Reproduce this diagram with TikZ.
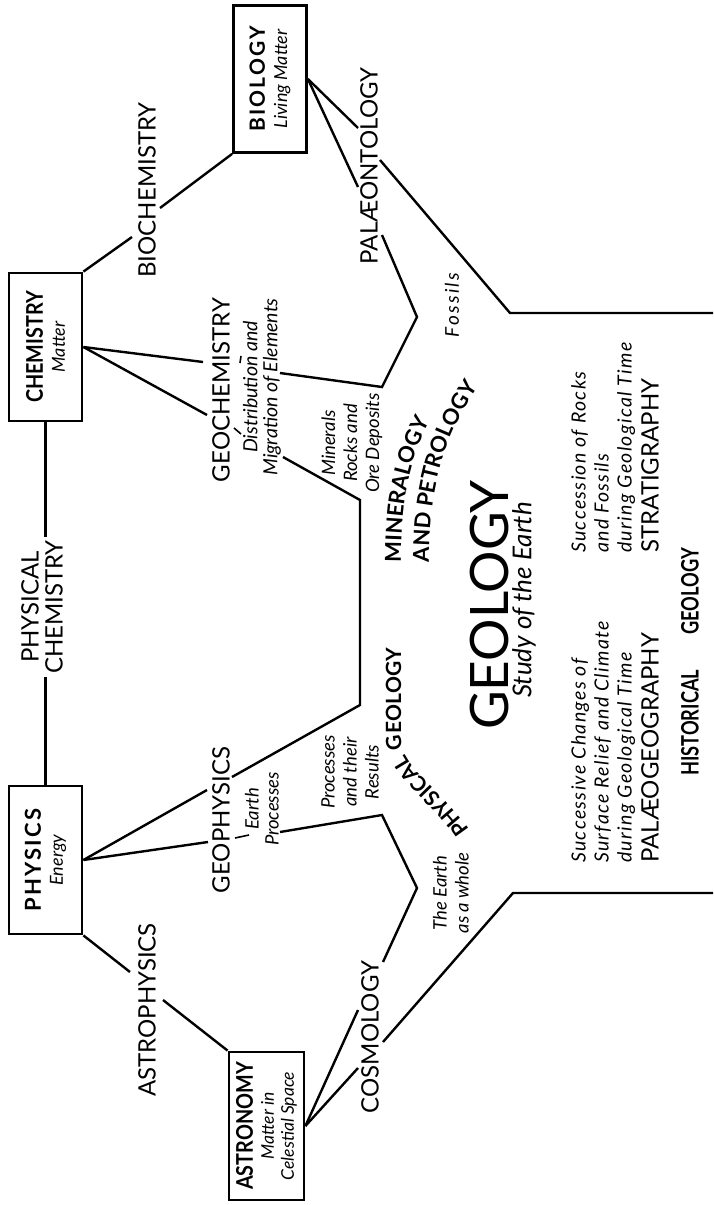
\documentclass[tikz,border=0pt]{standalone}
\usepackage{fontspec}
\setmainfont{Lato}
\newfontfamily\condfont{Lato}[FakeStretch=0.76]
\newfontfamily\boxfont{Lato}[FakeStretch=0.86]
\usetikzlibrary{decorations.text}
\newcommand\curvefont{\bfseries\fontsize{22}{22}\selectfont}
\newcommand\curvefontb{\bfseries\fontsize{21}{21}\selectfont}
\begin{document}
\begin{tikzpicture}[x=1pt,y=-1pt,
  box/.style={draw, line width=2.8pt, rotate=90, inner sep=0pt, align=center},
  conn/.style={line width=2.4pt, line join=miter},
  capslbl/.style={rotate=90, inner sep=0pt, align=center, font=\fontsize{24}{24}\selectfont},
  itlbl/.style={rotate=90, inner sep=0pt, align=center, font=\itshape\fontsize{18.5}{22}\selectfont},
  block/.style={rotate=90, inner sep=0pt, anchor=north west, align=left, font=\itshape\fontsize{19.5}{23}\selectfont\addfontfeature{LetterSpace=7}},
  curved/.style={decorate, decoration={text along path, text align={left}}}
]
\useasboundingbox (0,0) rectangle (713,1205);

% ---------- boxes ----------
\node[box, minimum width=147pt, minimum height=73pt] (bio) at (270,79)
  {{\bfseries\fontsize{21}{21}\selectfont\addfontfeature{LetterSpace=10}BIOLOGY}\\[8pt]{\itshape\fontsize{18}{18}\selectfont Living Matter}};
\node[box, minimum width=148pt, minimum height=73pt] (chem) at (45.5,347)
  {{\boxfont\bfseries\fontsize{23}{23}\selectfont CHEMISTRY}\\[8pt]{\itshape\fontsize{18}{18}\selectfont Matter}};
\node[box, minimum width=148pt, minimum height=73pt] (phys) at (45.5,860)
  {{\bfseries\fontsize{22}{22}\selectfont\addfontfeature{LetterSpace=10}PHYSICS}\\[8pt]{\itshape\fontsize{18}{18}\selectfont Energy}};
\node[box, minimum width=148pt, minimum height=75pt, font=\itshape\fontsize{17.5}{20}\selectfont] (astro) at (266.5,1126)
  {{\upshape\boxfont\bfseries\fontsize{23}{23}\selectfont ASTRONOMY}\\[1pt]Matter in\\Celestial Space};

% ---------- labels ----------
\node[capslbl, align=center] (physchem) at (42,607) {PHYSICAL\\CHEMISTRY};
\node[capslbl] (biochem) at (147,190) {BIOCHEMISTRY};
\node[capslbl] (astrophys) at (147,1010) {ASTROPHYSICS};
\node[capslbl] (geochem) at (221,390) {GEOCHEMISTRY};
\node[capslbl] (geophys) at (221,820) {GEOPHYSICS};
\node[capslbl] (palaeo) at (369,166) {PALÆONTOLOGY};
\node[capslbl] (cosmo) at (370,1037) {COSMOLOGY};

\node[itlbl, font=\itshape\fontsize{19.5}{20}\selectfont] (distrib) at (262,387) {Distribution and\\Migration of Elements};
\node[itlbl, font=\itshape\fontsize{18.5}{20}\selectfont] (earthproc) at (262,809) {Earth\\Processes};
\node[itlbl] (minerals) at (352,443) {Minerals\\Rocks and\\Ore Deposits};
\node[itlbl] (procres) at (350,772) {Processes\\and their\\Results};
\node[itlbl] (earthwhole) at (451,893) {The Earth\\as a whole};
\node[itlbl, font=\itshape\fontsize{19}{21}\selectfont\addfontfeature{LetterSpace=12}] (fossils) at (452,305) {Fossils};

\node[rotate=90, inner sep=0pt, font=\fontsize{53}{53}\selectfont] (geology) at (490,605) {GEOLOGY};
\node[rotate=90, inner sep=0pt, font=\itshape\fontsize{26}{26}\selectfont] (study) at (524,600) {Study of the Earth};

\node[block] (strat) at (571,553)
  {Succession of Rocks\\and Fossils\\during Geological Time\\[4pt]{\upshape\fontsize{24}{24}\selectfont\addfontfeature{LetterSpace=0}STRATIGRAPHY}};
\node[block] (palgeo) at (571,863)
  {Successive Changes of\\Surface Relief and Climate\\during Geological Time\\[4pt]{\upshape\fontsize{24}{24}\selectfont\addfontfeature{LetterSpace=0}PALÆOGEOGRAPHY}};
\node[rotate=90, inner sep=0pt, font=\condfont\bfseries\fontsize{24}{24}\selectfont] (histgeo) at (690,662) {HISTORICAL\hspace{35pt}GEOLOGY};

% ---------- curved labels ----------
\path[curved, decoration={text={|\curvefont|MINERALOGY}}] (401,562) .. controls (401,495) and (410,452) .. (440,405);
\path[curved, decoration={text={|\curvefont|AND PETROLOGY}}] (429,562) .. controls (429,480) and (447,425) .. (492,368);
\path[curved, decoration={text={|\curvefontb|PHYSICAL GEOLOGY}}] (469,830) .. controls (445,793) and (402,768) .. (401,738) -- (401,580);

% ---------- connector points ----------
\coordinate (pc1) at (45.5,537);
\coordinate (pc2) at (45.5,677);
\coordinate (bc1) at (132,237);
\coordinate (bc2) at (160,208);
\coordinate (ap1) at (130,972);
\coordinate (ap2) at (163,1000);

\coordinate (gc1) at (203,362);
\coordinate (gc2) at (207,415);
\coordinate (gt1a) at (241,356);
\coordinate (gt1b) at (240,363);
\coordinate (gt2a) at (234,428);
\coordinate (gt2b) at (241,434);
\coordinate (gc3) at (280,373);
\coordinate (ore) at (382,387);
\coordinate (fos1) at (417,317);
\coordinate (pal2) at (382,235);
\coordinate (gc4) at (283,457);
\coordinate (mp1) at (360,500);
\coordinate (mp2) at (360,705);
\coordinate (gp1) at (207,790);
\coordinate (gp2) at (208,842);
\coordinate (gpt1) at (235,838);
\coordinate (gpt2) at (249,835);
\coordinate (gp3) at (232,777);
\coordinate (gp4) at (280,832);
\coordinate (pr1) at (382,815);
\coordinate (ew1) at (417,888);
\coordinate (cos1) at (383,962);
\coordinate (cos2) at (383,1042);
\coordinate (as1) at (358,1010);
\coordinate (as2) at (358,1068);
\coordinate (bl1) at (358,128);
\coordinate (bl2) at (358,187);
\coordinate (pal1) at (380,160);
\coordinate (top1) at (510,313);
\coordinate (top2) at (713,313);
\coordinate (bot1) at (513,893);
\coordinate (bot2) at (713,893);

% ---------- connectors ----------
\draw[conn] (chem.west) -- (pc1);
\draw[conn] (pc2) -- (phys.east);
\draw[conn] (chem.south east) -- (bc1);
\draw[conn] (bc2) -- (bio.north west);
\draw[conn] (phys.south west) -- (ap1);
\draw[conn] (ap2) -- (astro.north east);

\draw[conn] (chem.south) -- (gc1);
\draw[conn] (chem.south) -- (gc2);
\draw[line width=1.6pt] (gt1a) -- (gt1b);
\draw[line width=1.6pt] (gt2a) -- (gt2b);
\draw[conn] (gc3) -- (ore) -- (fos1) -- (pal2);
\draw[conn] (gc4) -- (mp1) -- (mp2) -- (gp3);

\draw[conn] (phys.south) -- (gp1);
\draw[conn] (phys.south) -- (gp2);
\draw[line width=1.6pt] (gpt1) -- (gpt2);
\draw[conn] (gp4) -- (pr1) -- (ew1) -- (cos1);

\draw[conn] (astro.south) -- (as1);
\draw[conn] (astro.south) -- (as2);
\draw[conn] (cos2) -- (bot1) -- (bot2);

\draw[conn] (bio.south) -- (bl1);
\draw[conn] (bio.south) -- (bl2);
\draw[conn] (pal1) -- (top1) -- (top2);
\end{tikzpicture}
\end{document}
